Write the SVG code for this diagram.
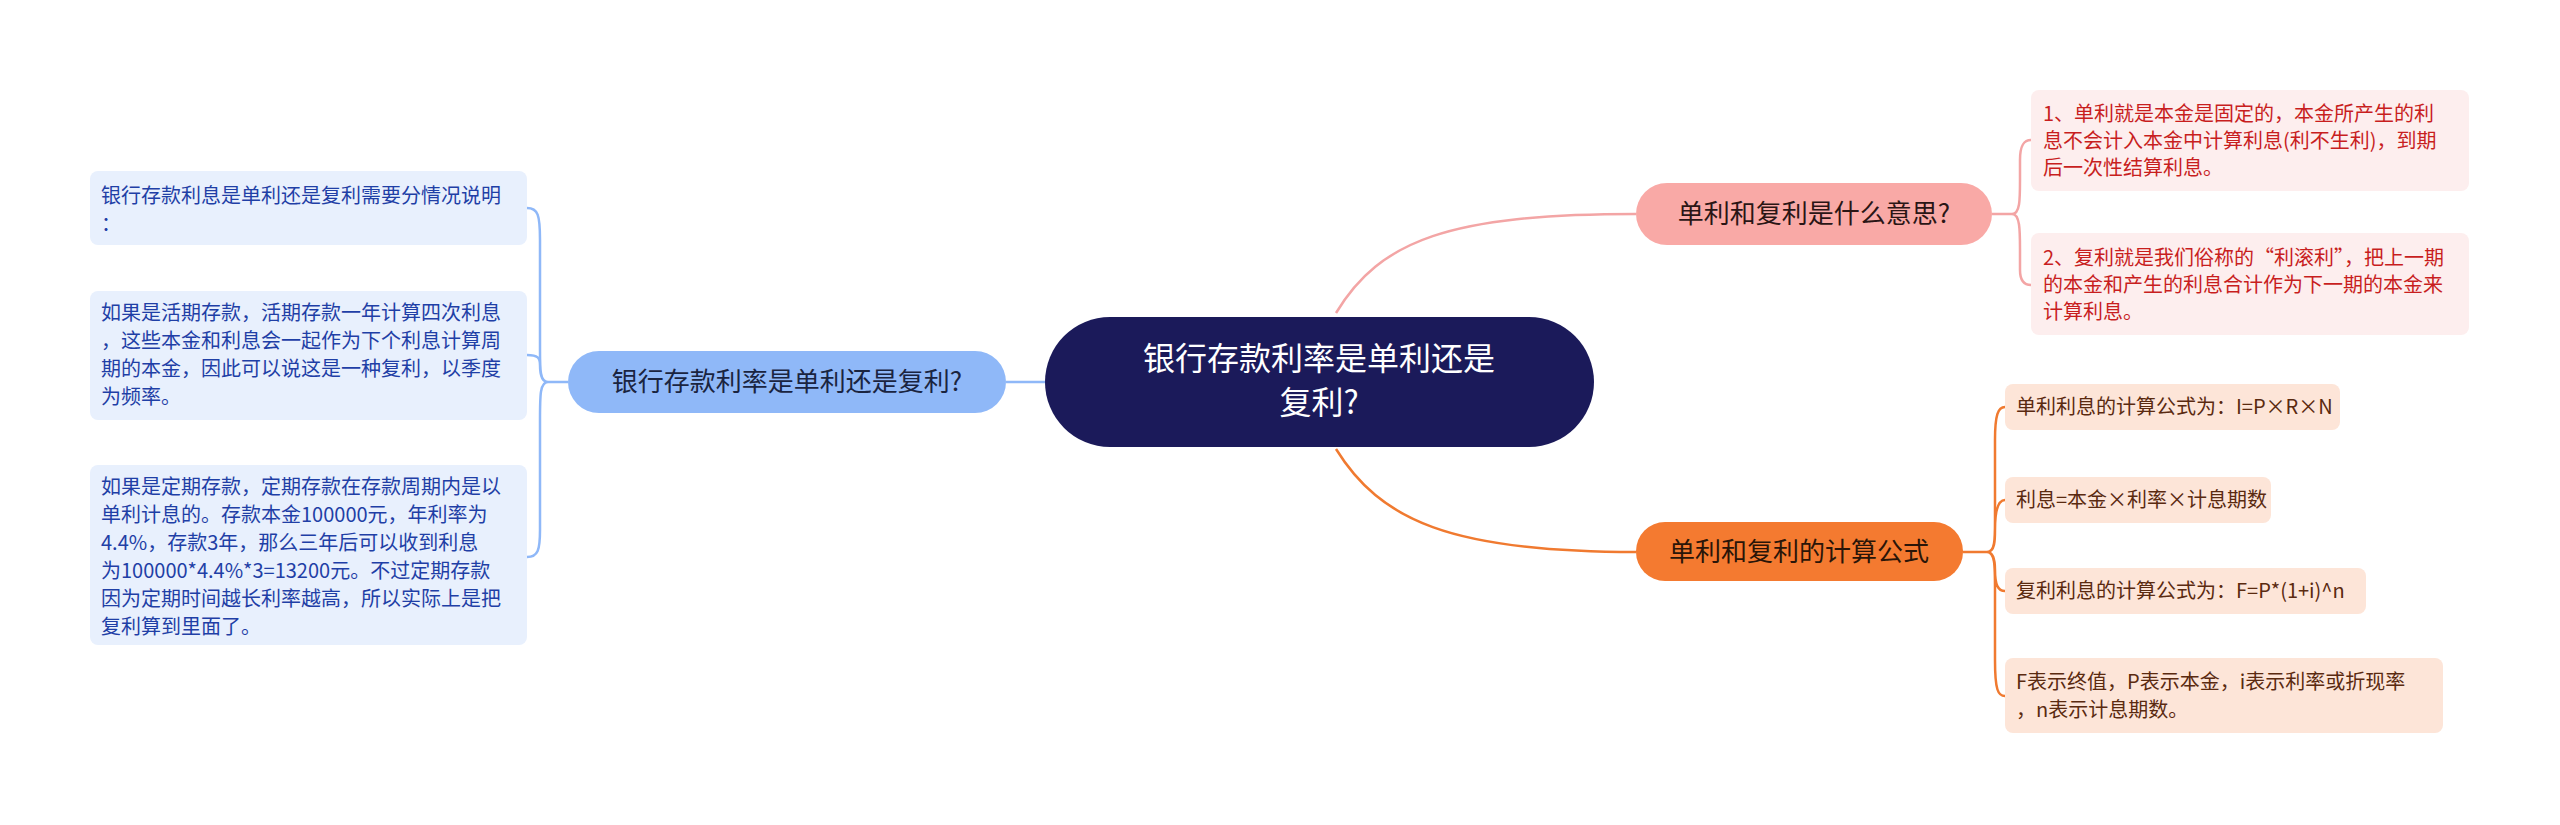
<svg xmlns="http://www.w3.org/2000/svg" width="2560" height="825" viewBox="0 0 2560 825">
<style>
text{font-family:"Noto Sans CJK SC","Liberation Sans",sans-serif}
.lb{fill:#e8f0fd}.lt{fill:#1f3fa6;font-size:20px}
.rb{fill:#fdeeee}.rt{fill:#c81e1e;font-size:20px}
.ob{fill:#fde5d8}.ot{fill:#5a2a10;font-size:20px}
.c{fill:none;stroke-width:2.5}
</style>
<rect width="2560" height="825" fill="#fff"/>
<g id="connectors">
<path class="c" stroke="#8fb8f8" d="M1045 382H1006M568 382H548M548 382C540 382 540 370 540 350V240C540 215 538 208 527 208M548 382C540 382 540 370 540 365C540 358 538 355 527 355M548 382C540 382 540 395 540 420V530C540 550 538 557 527 557"/>
<path class="c" stroke="#f3a5a5" d="M1336 313C1380 240 1450 214 1636 214M1992 214H2012M2012 214C2020 214 2020 200 2020 180V160C2020 145 2024 140 2031 140M2012 214C2020 214 2020 230 2020 250V270C2020 280 2024 285 2031 285"/>
<path class="c" stroke="#f07a30" d="M1336 449C1380 520 1450 552 1636 552M1963 552H1987M1987 552C1995 552 1995 540 1995 520V440C1995 415 1998 407 2005 407M1987 552C1995 552 1995 540 1995 530C1995 510 1998 500 2005 500M1987 552C1995 552 1995 565 1995 570C1995 585 1998 591 2005 591M1987 552C1995 552 1995 565 1995 590V660C1995 690 1998 696 2005 696"/>
</g>
<g id="center"><rect x="1045" y="317" width="549" height="130" rx="65" fill="#1b1a5a"/>
<text x="1319" y="370" font-size="32" fill="#fff" text-anchor="middle">银行存款利率是单利还是</text>
<text x="1319" y="414" font-size="32" fill="#fff" text-anchor="middle">复利?</text></g>
<g id="left-main"><rect x="568" y="351" width="438" height="62" rx="31" fill="#8fb8f8"/>
<text x="787" y="391" font-size="26" fill="#1a2440" text-anchor="middle">银行存款利率是单利还是复利?</text></g>
<g id="left-1"><rect class="lb" x="90" y="171" width="437" height="74" rx="8"/>
<text class="lt" x="101" y="203">银行存款利息是单利还是复利需要分情况说明</text><text class="lt" x="101" y="231">：</text></g>
<g id="left-2"><rect class="lb" x="90" y="291" width="437" height="129" rx="8"/>
<text class="lt" x="101" y="320">如果是活期存款，活期存款一年计算四次利息</text>
<text class="lt" x="101" y="348">，这些本金和利息会一起作为下个利息计算周</text>
<text class="lt" x="101" y="376">期的本金，因此可以说这是一种复利，以季度</text>
<text class="lt" x="101" y="404">为频率。</text></g>
<g id="left-3"><rect class="lb" x="90" y="465" width="437" height="180" rx="8"/>
<text class="lt" x="101" y="494">如果是定期存款，定期存款在存款周期内是以</text>
<text class="lt" x="101" y="522">单利计息的。存款本金100000元，年利率为</text>
<text class="lt" x="101" y="550">4.4%，存款3年，那么三年后可以收到利息</text>
<text class="lt" x="101" y="578">为100000*4.4%*3=13200元。不过定期存款</text>
<text class="lt" x="101" y="606">因为定期时间越长利率越高，所以实际上是把</text>
<text class="lt" x="101" y="634">复利算到里面了。</text></g>
<g id="right-main-1"><rect x="1636" y="183" width="356" height="62" rx="31" fill="#f9a9a6"/>
<text x="1814" y="223" font-size="26" fill="#2a1515" text-anchor="middle">单利和复利是什么意思?</text></g>
<g id="right-1a"><rect class="rb" x="2031" y="90" width="438" height="101" rx="8"/>
<text class="rt" x="2043" y="121">1、单利就是本金是固定的，本金所产生的利</text>
<text class="rt" x="2043" y="148">息不会计入本金中计算利息(利不生利)，到期</text>
<text class="rt" x="2043" y="175">后一次性结算利息。</text></g>
<g id="right-1b"><rect class="rb" x="2031" y="233" width="438" height="102" rx="8"/>
<text class="rt" x="2043" y="265">2、复利就是我们俗称的“利滚利”，把上一期</text>
<text class="rt" x="2043" y="292">的本金和产生的利息合计作为下一期的本金来</text>
<text class="rt" x="2043" y="319">计算利息。</text></g>
<g id="right-main-2"><rect x="1636" y="522" width="327" height="59" rx="29" fill="#f47a30"/>
<text x="1799" y="561" font-size="26" fill="#2a1508" text-anchor="middle">单利和复利的计算公式</text></g>
<g id="right-2a"><rect class="ob" x="2005" y="384" width="335" height="46" rx="8"/>
<text class="ot" x="2016" y="414">单利利息的计算公式为：I=P×R×N</text></g>
<g id="right-2b"><rect class="ob" x="2005" y="477" width="266" height="46" rx="8"/>
<text class="ot" x="2016" y="507">利息=本金×利率×计息期数</text></g>
<g id="right-2c"><rect class="ob" x="2005" y="568" width="361" height="46" rx="8"/>
<text class="ot" x="2016" y="598">复利利息的计算公式为：F=P*(1+i)^n</text></g>
<g id="right-2d"><rect class="ob" x="2005" y="658" width="438" height="75" rx="8"/>
<text class="ot" x="2016" y="689">F表示终值，P表示本金，i表示利率或折现率</text>
<text class="ot" x="2016" y="717">，n表示计息期数。</text></g>
</svg>
